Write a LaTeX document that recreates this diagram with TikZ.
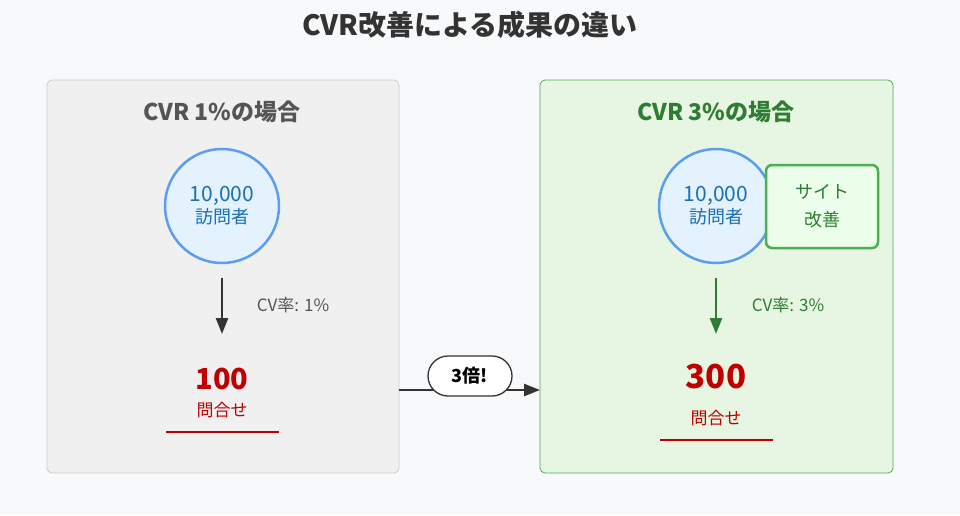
\documentclass[tikz,border=0pt]{standalone}
\usepackage{fontspec}
\setmainfont{Noto Sans CJK JP}
\usetikzlibrary{arrows.meta}
\definecolor{bg}{HTML}{F8F9FA}
\definecolor{gbox}{HTML}{F0F0F0}
\definecolor{gbord}{HTML}{CCCCCC}
\definecolor{grbox}{HTML}{E6F6E2}
\definecolor{grbord}{HTML}{4CAF50}
\definecolor{grtxt}{HTML}{2E7D32}
\definecolor{cfill}{HTML}{E3F2FD}
\definecolor{cbord}{HTML}{5C9DED}
\definecolor{ctxt}{HTML}{1A6FB5}
\definecolor{rd}{HTML}{C00000}
\definecolor{gy}{HTML}{555555}
\tikzset{
 panel/.style={rounded corners=5pt,line width=0.8pt},
 circ/.style={circle,minimum size=114pt,fill=cfill,draw=cbord,line width=2.5pt,text=ctxt,align=center,inner sep=0pt},
 hdr/.style={font=\fontsize{23}{26}\selectfont\bfseries},
 lbl/.style={font=\fontsize{17}{20}\selectfont},
 arr/.style={-{Triangle[length=16pt,width=12pt]},line width=2.5pt},
 txt/.style={inner sep=0pt},
}
\begin{document}
\begin{tikzpicture}[x=1pt,y=-1pt]
\fill[bg] (0,0) rectangle (960,515);
\useasboundingbox (0,0) rectangle (960,515);
\node[txt,font=\fontsize{28}{30}\selectfont\bfseries,text=black!80] (title) at (470,25) {CVR改善による成果の違い};
% left
\draw[panel,fill=gbox,draw=gbord] (47,80) rectangle (399,473);
\node[txt,hdr,text=gy] (lh) at (222,112) {CVR 1\%の場合};
\node[circ] (lc) at (222,206) {\fontsize{21}{26}\selectfont 10,000\\[2pt]\fontsize{18}{22}\selectfont 訪問者};
\coordinate (la1) at (222,278); \coordinate (la2) at (222,334);
\draw[arr,black!80] (la1) -- (la2);
\node[txt,lbl,text=gy] (ll) at (293,305) {CV率: 1\%};
\node[txt,font=\fontsize{29}{32}\selectfont\bfseries,text=rd] (ln) at (222,379) {100};
\node[txt,lbl,text=rd] (lq) at (222,410) {問合せ};
\coordinate (lu1) at (166,432); \coordinate (lu2) at (279,432);
\draw[rd,line width=2.5pt] (lu1) -- (lu2);
% right
\draw[panel,fill=grbox,draw=grbord] (540,80) rectangle (893,473);
\node[txt,hdr,text=grtxt] (rh) at (716,112) {CVR 3\%の場合};
\node[circ] (rc) at (716,206) {\fontsize{21}{26}\selectfont 10,000\\[2pt]\fontsize{18}{22}\selectfont 訪問者};
\node[draw=grbord,fill=green!8,line width=2.5pt,rounded corners=6pt,minimum width=112pt,minimum height=83pt,align=center,text=grtxt,font=\fontsize{18}{28}\selectfont] (kai) at (822,206.5) {サイト\\改善};
\coordinate (ra1) at (716,278); \coordinate (ra2) at (716,334);
\draw[arr,grtxt] (ra1) -- (ra2);
\node[txt,lbl,text=grtxt] (rl) at (788,305) {CV率: 3\%};
\node[txt,font=\fontsize{33}{36}\selectfont\bfseries,text=rd] (rn) at (716,377) {300};
\node[txt,lbl,text=rd] (rq) at (716,418) {問合せ};
\coordinate (ru1) at (660,440); \coordinate (ru2) at (773,440);
\draw[rd,line width=2.5pt] (ru1) -- (ru2);
% middle
\coordinate (m1) at (399,390); \coordinate (m2) at (540,390);
\draw[arr,black!80] (m1) -- (m2);
\node[draw=black!80,fill=white,line width=1.3pt,rounded corners=20pt,minimum width=84pt,minimum height=40pt,font=\fontsize{18}{20}\selectfont\bfseries] (x3) at (470,376) {3倍!};
\end{tikzpicture}
\end{document}
